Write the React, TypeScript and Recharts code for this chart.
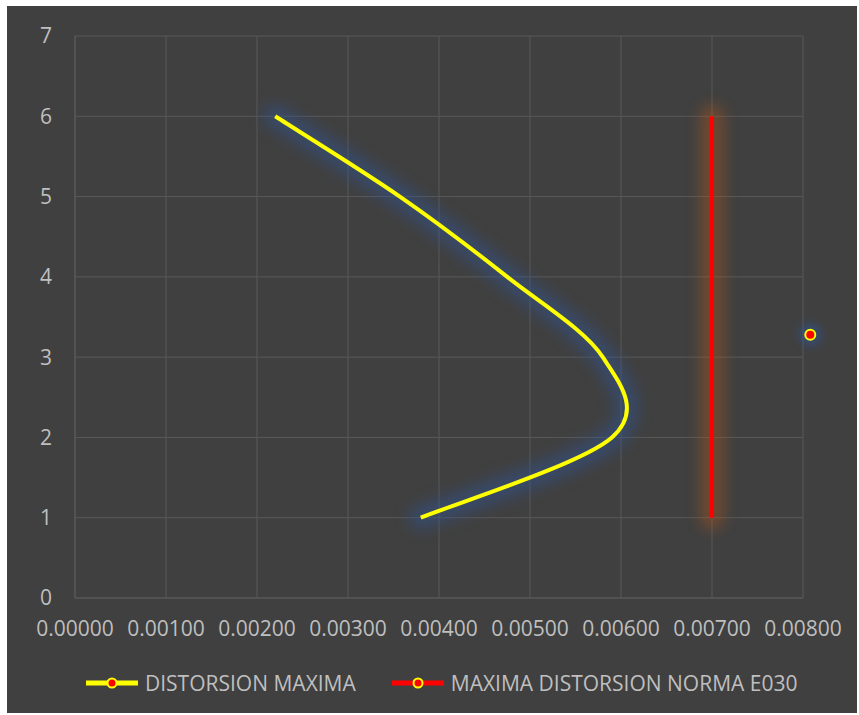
import React from "react";
import { LineChart, Line, XAxis, YAxis, CartesianGrid, Legend, ReferenceDot } from "recharts";

// Storey levels and the maximum drift computed for each one
const stories = [1, 2, 3, 4, 5, 6];
const drift = [0.0038, 0.0059, 0.0058, 0.00475, 0.00357, 0.0022];

// E.030 drift limit, drawn as a vertical segment over the storey range
const limitStories = [1, 6];
const limitValue = [0.007, 0.007];

// Single stray marker sitting just outside the plot on the right
const strayPoint = { x: 0.00808, y: 3.28 };

const xTicks = [0, 0.001, 0.002, 0.003, 0.004, 0.005, 0.006, 0.007, 0.008];
const yTicks = [0, 1, 2, 3, 4, 5, 6, 7];

const SERIES_NAMES = ["DISTORSION MAXIMA", "MAXIMA DISTORSION NORMA E030"];

const driftData = stories.map((y, i) => ({ y, drift: drift[i] }));
const limitData = limitStories.map((y, i) => ({ y, limit: limitValue[i] }));

const BG = "#404040";
const GRID = "#595959";
const TEXT = "#bfbfbf";
const FONT = "'Open Sans', sans-serif";

// Smoothed line through every point (cardinal spline as Bezier segments)
function smoothCurve(context: any) {
  let pts: [number, number][] = [];
  return {
    areaStart() {},
    areaEnd() {},
    lineStart() {
      pts = [];
    },
    point(x: number, y: number) {
      pts.push([+x, +y]);
    },
    lineEnd() {
      if (!pts.length) return;
      context.moveTo(pts[0][0], pts[0][1]);
      for (let i = 0; i < pts.length - 1; i++) {
        const p0 = pts[Math.max(i - 1, 0)];
        const p1 = pts[i];
        const p2 = pts[i + 1];
        const p3 = pts[Math.min(i + 2, pts.length - 1)];
        context.bezierCurveTo(
          p1[0] + (p2[0] - p0[0]) / 6,
          p1[1] + (p2[1] - p0[1]) / 6,
          p2[0] - (p3[0] - p1[0]) / 6,
          p2[1] - (p3[1] - p1[1]) / 6,
          p2[0],
          p2[1]
        );
      }
    },
  };
}

function LegendKey({ color }: { color: string }) {
  return (
    <svg width={52} height={14} style={{ display: "block" }}>
      <line x1={0} y1={7} x2={52} y2={7} stroke={color} strokeWidth={5} />
      <circle cx={26} cy={7} r={4.5} fill="#ff0000" stroke="#ffff00" strokeWidth={2} />
    </svg>
  );
}

function ChartLegend() {
  const colors = ["#ffff00", "#ff0000"];
  return (
    <div
      style={{
        display: "flex",
        alignItems: "center",
        height: 40,
        paddingLeft: 79,
        fontFamily: FONT,
        fontSize: 21,
        color: TEXT,
      }}
    >
      {SERIES_NAMES.map((name, i) => (
        <div key={name} style={{ display: "flex", alignItems: "center", marginRight: 36 }}>
          <LegendKey color={colors[i]} />
          <span style={{ marginLeft: 7, lineHeight: "40px" }}>{name}</span>
        </div>
      ))}
    </div>
  );
}

export default function App() {
  return (
    <div style={{ position: "absolute", left: 0, top: 0, width: 859, height: 715, background: "#ffffff" }}>
      <style>{`
        .glow-blue path { filter: blur(7px); }
        .glow-red path { filter: blur(7px); }
        .glow-dot { filter: blur(4px); }
      `}</style>
      <div style={{ position: "absolute", left: 7, top: 6, width: 850, height: 707, background: BG }}>
        <LineChart
          width={850}
          height={707}
          data={driftData}
          layout="vertical"
          margin={{ top: 30, right: 54, left: 18, bottom: 10 }}
        >
          <CartesianGrid stroke={GRID} strokeWidth={1} />
          <XAxis
            type="number"
            domain={[0, 0.008]}
            ticks={xTicks}
            tickFormatter={(v: number) => v.toFixed(5)}
            axisLine={{ stroke: GRID }}
            tickLine={false}
            tickSize={0}
            tickMargin={23}
            height={65}
            interval={0}
            tick={{ fill: TEXT, fontSize: 21, fontFamily: FONT }}
          />
          <YAxis
            type="number"
            dataKey="y"
            domain={[0, 7]}
            ticks={yTicks}
            reversed
            axisLine={{ stroke: GRID }}
            tickLine={false}
            tickSize={0}
            tickMargin={23}
            width={50}
            interval={0}
            tick={{ fill: TEXT, fontSize: 21, fontFamily: FONT }}
          />
          <Legend
            verticalAlign="bottom"
            content={() => <ChartLegend />}
            wrapperStyle={{ left: 0, width: 850, height: 40 }}
          />

          {/* soft halos under both series */}
          <Line
            className="glow-blue"
            dataKey="drift"
            type={smoothCurve as any}
            stroke="#2f5597"
            strokeOpacity={0.45}
            strokeWidth={24}
            strokeLinecap="round"
            dot={false}
            activeDot={false}
            legendType="none"
            isAnimationActive={false}
          />
          <Line
            className="glow-red"
            data={limitData}
            dataKey="limit"
            stroke="#c55a11"
            strokeOpacity={0.35}
            strokeWidth={24}
            strokeLinecap="round"
            dot={false}
            activeDot={false}
            legendType="none"
            isAnimationActive={false}
          />

          <Line
            dataKey="drift"
            name={SERIES_NAMES[0]}
            type={smoothCurve as any}
            stroke="#ffff00"
            strokeWidth={4}
            dot={false}
            activeDot={false}
            isAnimationActive={false}
          />
          <Line
            data={limitData}
            dataKey="limit"
            name={SERIES_NAMES[1]}
            stroke="#ff0000"
            strokeWidth={4}
            dot={false}
            activeDot={false}
            isAnimationActive={false}
          />

          <ReferenceDot
            x={strayPoint.x}
            y={strayPoint.y}
            r={11}
            fill="#2f5597"
            fillOpacity={0.6}
            stroke="none"
            className="glow-dot"
            ifOverflow="visible"
          />
          <ReferenceDot
            x={strayPoint.x}
            y={strayPoint.y}
            r={5}
            fill="#ff0000"
            stroke="#ffff00"
            strokeWidth={2}
            ifOverflow="visible"
          />
        </LineChart>
      </div>
    </div>
  );
}
